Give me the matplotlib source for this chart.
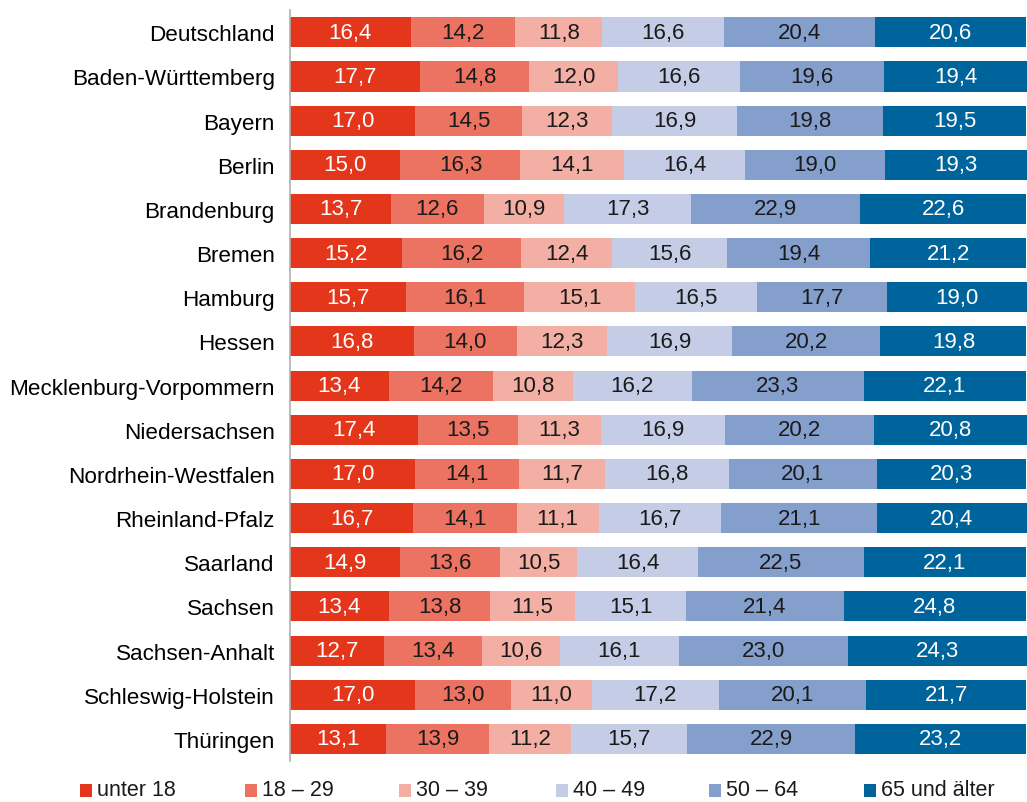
import matplotlib
matplotlib.use("Agg")
import matplotlib.pyplot as plt
from matplotlib.patches import Rectangle
import numpy as np

plt.rcParams["font.family"] = ["Liberation Sans", "DejaVu Sans"]

laender = [
    "Deutschland", "Baden-Württemberg", "Bayern", "Berlin", "Brandenburg",
    "Bremen", "Hamburg", "Hessen", "Mecklenburg-Vorpommern", "Niedersachsen",
    "Nordrhein-Westfalen", "Rheinland-Pfalz", "Saarland", "Sachsen",
    "Sachsen-Anhalt", "Schleswig-Holstein", "Thüringen",
]
gruppen = ["unter 18", "18 – 29", "30 – 39", "40 – 49", "50 – 64", "65 und älter"]

unter_18 = [16.4, 17.7, 17.0, 15.0, 13.7, 15.2, 15.7, 16.8, 13.4, 17.4, 17.0, 16.7, 14.9, 13.4, 12.7, 17.0, 13.1]
a18_29 = [14.2, 14.8, 14.5, 16.3, 12.6, 16.2, 16.1, 14.0, 14.2, 13.5, 14.1, 14.1, 13.6, 13.8, 13.4, 13.0, 13.9]
a30_39 = [11.8, 12.0, 12.3, 14.1, 10.9, 12.4, 15.1, 12.3, 10.8, 11.3, 11.7, 11.1, 10.5, 11.5, 10.6, 11.0, 11.2]
a40_49 = [16.6, 16.6, 16.9, 16.4, 17.3, 15.6, 16.5, 16.9, 16.2, 16.9, 16.8, 16.7, 16.4, 15.1, 16.1, 17.2, 15.7]
a50_64 = [20.4, 19.6, 19.8, 19.0, 22.9, 19.4, 17.7, 20.2, 23.3, 20.2, 20.1, 21.1, 22.5, 21.4, 23.0, 20.1, 22.9]
ab_65 = [20.6, 19.4, 19.5, 19.3, 22.6, 21.2, 19.0, 19.8, 22.1, 20.8, 20.3, 20.4, 22.1, 24.8, 24.3, 21.7, 23.2]

farben = ["#E3361B", "#EC7261", "#F4AFA4", "#C5CDE6", "#859FCD", "#00649C"]
textfarben = ["white", "#1a1a1a", "#1a1a1a", "#1a1a1a", "#1a1a1a", "white"]

serien = [unter_18, a18_29, a30_39, a40_49, a50_64, ab_65]

W, H = 1027, 803
fig = plt.figure(figsize=(W / 100, H / 100), dpi=100)
ax = fig.add_axes([0.2824, 0.051, 0.7176, 0.935])

y = np.arange(len(laender))
links = np.zeros(len(laender))
for werte, farbe, tf, name in zip(serien, farben, textfarben, gruppen):
    werte = np.array(werte)
    ax.barh(y, werte, left=links, height=0.68, color=farbe, label=name, linewidth=0)
    for yi, l, w in zip(y, links, werte):
        ax.text(l + w / 2, yi, f"{w:.1f}".replace(".", ","), ha="center", va="center",
                fontsize=16, color=tf)
    links += werte

ax.set_ylim(len(laender) - 0.5, -0.5)
ax.set_xlim(0, links.max())
ax.set_yticks(y)
ax.set_yticklabels(laender, fontsize=16.2)
ax.tick_params(axis="y", length=0, pad=11)
ax.set_xticks([])
for s in ["top", "right", "bottom"]:
    ax.spines[s].set_visible(False)
ax.spines["left"].set_color("#b0b0b0")
ax.spines["left"].set_linewidth(1.2)

# legend drawn by hand (pixel layout of the reference)
legend_x = [80, 245, 399, 556, 709, 864]
for x0, farbe, name in zip(legend_x, farben, gruppen):
    fig.patches.append(Rectangle((x0 / W, 1 - 798 / H), 12 / W, 13 / H,
                                 transform=fig.transFigure, color=farbe, linewidth=0))
    fig.text((x0 + 17) / W, 1 - 791 / H, name, fontsize=15.5, color="#1a1a1a",
             va="center", ha="left")

fig.savefig("out.png", dpi=100)
